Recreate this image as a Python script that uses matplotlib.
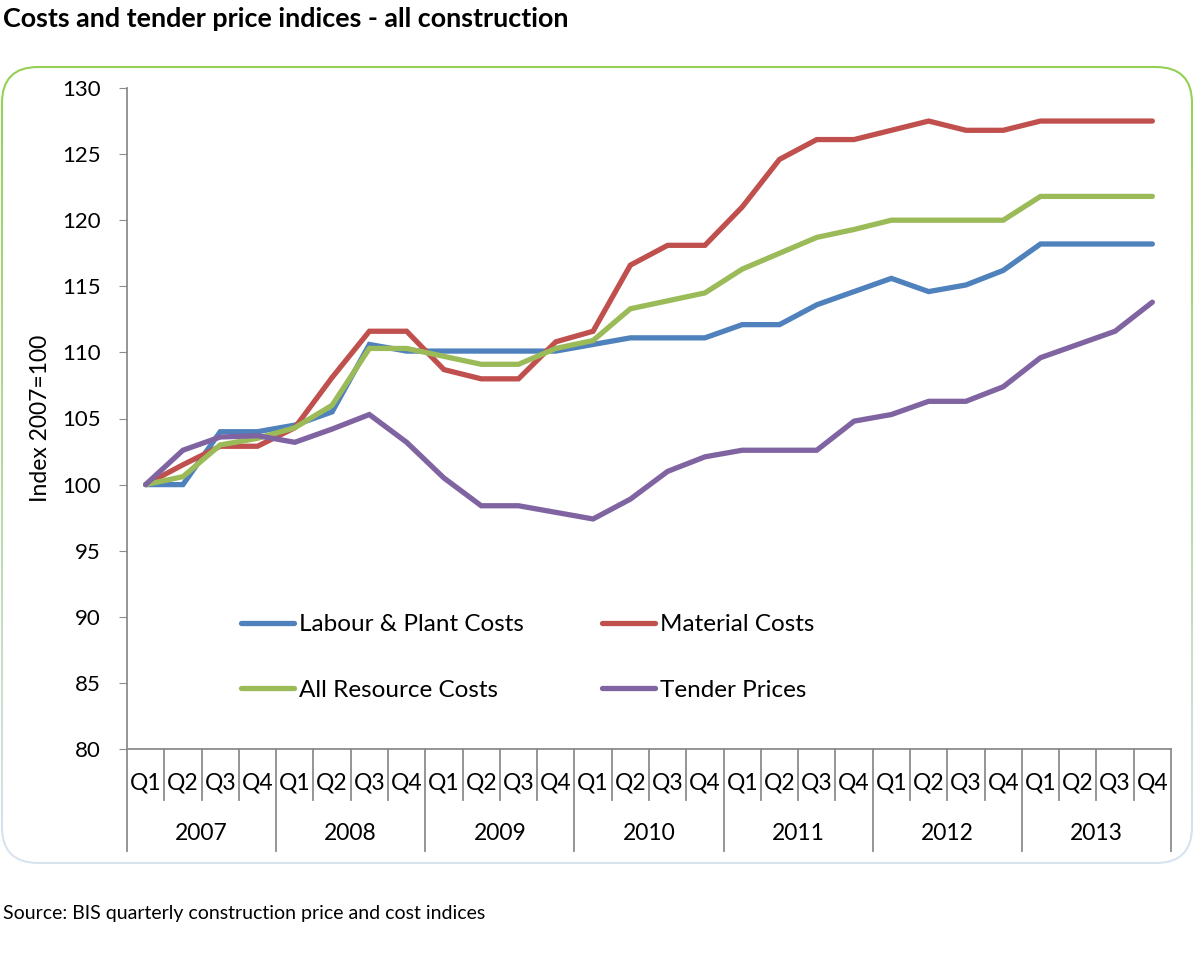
import numpy as np
import matplotlib
matplotlib.use("Agg")
import matplotlib.pyplot as plt
from matplotlib.patches import FancyBboxPatch, Rectangle
import matplotlib.transforms as mtransforms
import matplotlib.colors as mcolors

plt.rcParams['font.family'] = ['Lato', 'DejaVu Sans']

years = ['2007', '2008', '2009', '2010', '2011', '2012', '2013']
quarters = ['Q1', 'Q2', 'Q3', 'Q4']

labour = [100, 100, 104, 104, 104.5, 105.5, 110.6, 110.1,
          110.1, 110.1, 110.1, 110.1, 110.6, 111.1, 111.1, 111.1,
          112.1, 112.1, 113.6, 114.6, 115.6, 114.6, 115.1, 116.2,
          118.2, 118.2, 118.2, 118.2]
material = [100, 101.5, 102.9, 102.9, 104.3, 108.1, 111.6, 111.6,
            108.7, 108.0, 108.0, 110.8, 111.6, 116.6, 118.1, 118.1,
            121.0, 124.6, 126.1, 126.1, 126.8, 127.5, 126.8, 126.8,
            127.5, 127.5, 127.5, 127.5]
allres = [100, 100.6, 103.0, 103.5, 104.3, 106.0, 110.3, 110.3,
          109.7, 109.1, 109.1, 110.3, 110.9, 113.3, 113.9, 114.5,
          116.3, 117.5, 118.7, 119.3, 120.0, 120.0, 120.0, 120.0,
          121.8, 121.8, 121.8, 121.8]
tender = [100, 102.6, 103.6, 103.7, 103.2, 104.2, 105.3, 103.2,
          100.5, 98.4, 98.4, 97.9, 97.4, 98.9, 101.0, 102.1,
          102.6, 102.6, 102.6, 104.8, 105.3, 106.3, 106.3, 107.4,
          109.6, 110.6, 111.6, 113.8]

series = [
    ('Labour & Plant Costs', labour, '#4F81BD'),
    ('Material Costs', material, '#C0504D'),
    ('All Resource Costs', allres, '#9BBB59'),
    ('Tender Prices', tender, '#8064A2'),
]

W, H = 1200, 957
fig = plt.figure(figsize=(W / 100, H / 100), dpi=100)

# rounded frame with green -> light blue gradient edge
top_c = np.array(mcolors.to_rgb('#92D050'))
bot_c = np.array(mcolors.to_rgb('#D9E3F3'))
bx0, by0, bx1, by1 = 2, 67, 1192, 863
n = 30
for i in range(n):
    ya = by0 + (by1 - by0 + 4) * i / n - 2
    yb = by0 + (by1 - by0 + 4) * (i + 1) / n - 2
    c = top_c + (bot_c - top_c) * (i + 0.5) / n
    box = FancyBboxPatch((bx0 / W, 1 - by1 / H), (bx1 - bx0) / W, (by1 - by0) / H,
                         boxstyle='round,pad=0,rounding_size=0.03',
                         transform=fig.transFigure, fill=False, lw=1.5,
                         edgecolor=c, mutation_aspect=W / H)
    fig.patches.append(box)
    clip = Rectangle((0, 1 - yb / H), 1, (yb - ya) / H, transform=fig.transFigure)
    box.set_clip_path(clip)

ax = fig.add_axes([127 / W, 1 - 749 / H, (1171 - 127) / W, (749 - 88) / H])
x = np.arange(len(labour))
lines = {}
for name, vals, col in series:
    lines[name], = ax.plot(x, vals, color=col, lw=3.8, label=name,
                           solid_capstyle='round', solid_joinstyle='miter')

ax.set_xlim(-0.5, len(labour) - 0.5)
ax.set_ylim(80, 130)
ax.set_yticks(np.arange(80, 131, 5))
ax.tick_params(axis='y', labelsize=16, length=6, color='#8C8C8C', pad=13)
ax.set_xticks([])
for s in ['top', 'right']:
    ax.spines[s].set_visible(False)
for s in ['left', 'bottom']:
    ax.spines[s].set_color('#8C8C8C')
    ax.spines[s].set_linewidth(1.3)
ax.set_ylabel('Index 2007=100', fontsize=16.5, labelpad=8)

# two-level category axis
tr = mtransforms.blended_transform_factory(ax.transData, ax.transAxes)
ah = 749 - 88
q_low = -51 / ah
y_low = -102 / ah
for i in range(len(labour) + 1):
    xe = i - 0.5
    ybot = y_low if i % 4 == 0 else q_low
    ax.plot([xe, xe], [0, ybot], color='#8C8C8C', lw=1.3, transform=tr, clip_on=False)
for i in range(len(labour)):
    ax.text(i, -34 / ah, quarters[i % 4], transform=tr, ha='center', va='center',
            fontsize=16.5)
for j, yr in enumerate(years):
    ax.text(j * 4 + 1.5, -84 / ah, yr, transform=tr, ha='center', va='center',
            fontsize=16.5)

# legend filled row by row like the original
order = ['Labour & Plant Costs', 'All Resource Costs', 'Material Costs', 'Tender Prices']
leg = ax.legend([lines[k] for k in order], order,
                loc='upper left', bbox_to_anchor=(114 / 1044, (749 - 614) / ah),
                ncol=2, frameon=False, fontsize=17.5, handlelength=2.2,
                handletextpad=0.2, labelspacing=1.85, columnspacing=3.2,
                borderaxespad=0, borderpad=0)

fig.text(3 / W, 1 - 19 / H, 'Costs and tender price indices - all construction',
         fontsize=19.4, fontweight='bold', ha='left', va='center')
fig.text(3 / W, 1 - 913 / H, 'Source: BIS quarterly construction price and cost indices',
         fontsize=14, ha='left', va='center')

fig.savefig('out.png', dpi=100)
